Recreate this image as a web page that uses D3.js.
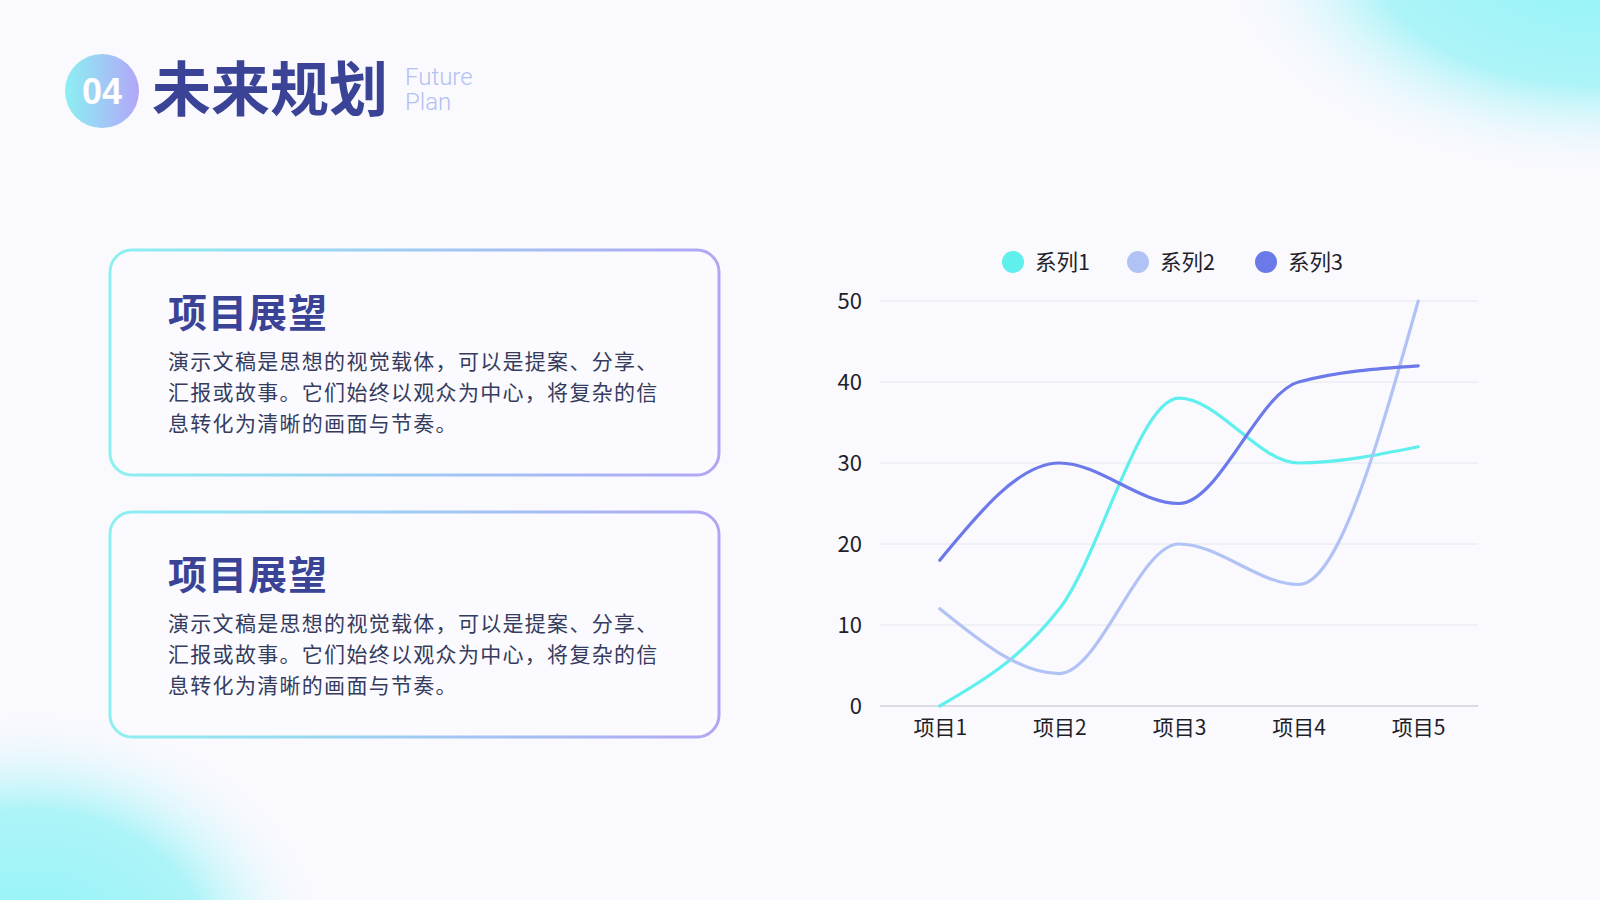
<!DOCTYPE html>
<html lang="zh">
<head>
  <meta charset="UTF-8">
  <title>未来规划</title>
  <style>
    body { margin: 0; background: #f9f9fe; }
    svg { display: block; }
    text { font-family: "Noto Sans CJK SC", "Noto Sans", sans-serif; }
  </style>
</head>
<body>
  <svg id="svg" width="1600" height="900"></svg>

  <script src="https://cdn.jsdelivr.net/npm/d3@7"></script>
  <script>
    // chart data
    const categories = ['项目1', '项目2', '项目3', '项目4', '项目5'];
    const seriesNames = ['系列1', '系列2', '系列3'];
    const series1 = [0, 12, 38, 30, 32];
    const series2 = [12, 4, 20, 15, 50];
    const series3 = [18, 30, 25, 40, 42];
    const yTicks = [0, 10, 20, 30, 40, 50];
    const seriesColors = ['#5ff0ee', '#b1c3f5', '#6c79e8'];

    const cardTitle = '项目展望';
    const cardLines = [
      '演示文稿是思想的视觉载体，可以是提案、分享、',
      '汇报或故事。它们始终以观众为中心，将复杂的信',
      '息转化为清晰的画面与节奏。'
    ];

    const svg = d3.select('#svg');
    const defs = svg.append('defs');

    // soft background blobs
    const blob = defs.append('radialGradient').attr('id', 'blob');
    blob.append('stop').attr('offset', '0%').attr('stop-color', '#8ef4f6').attr('stop-opacity', 1);
    blob.append('stop').attr('offset', '60%').attr('stop-color', '#9ff3f7').attr('stop-opacity', 0.85);
    blob.append('stop').attr('offset', '100%').attr('stop-color', '#f9f9fe').attr('stop-opacity', 0);

    svg.append('rect').attr('width', 1600).attr('height', 900).attr('fill', '#f9f9fe');
    svg.append('ellipse').attr('cx', 1600).attr('cy', -50).attr('rx', 380).attr('ry', 225).attr('fill', 'url(#blob)');
    svg.append('ellipse').attr('cx', 30).attr('cy', 960).attr('rx', 300).attr('ry', 250).attr('fill', 'url(#blob)');

    // header
    const badgeGrad = defs.append('linearGradient').attr('id', 'badge');
    badgeGrad.append('stop').attr('offset', '0%').attr('stop-color', '#8cf0f2');
    badgeGrad.append('stop').attr('offset', '100%').attr('stop-color', '#b2a6f8');

    svg.append('circle').attr('cx', 102).attr('cy', 91).attr('r', 37).attr('fill', 'url(#badge)');
    svg.append('text').attr('x', 102).attr('y', 104).attr('text-anchor', 'middle')
      .attr('fill', '#fff').attr('font-size', 36).attr('font-weight', 700)
      .style('font-family', '"Liberation Sans", Arial, sans-serif').text('04');
    svg.append('text').attr('x', 152).attr('y', 111)
      .attr('fill', '#3a4396').attr('font-size', 59).attr('font-weight', 700).text('未来规划');
    svg.append('text').attr('x', 405).attr('y', 85)
      .attr('fill', '#b3c0f2').attr('font-size', 24).style('font-family', 'Roboto, sans-serif')
      .attr('font-weight', 300).text('Future');
    svg.append('text').attr('x', 405).attr('y', 110)
      .attr('fill', '#b3c0f2').attr('font-size', 24).style('font-family', 'Roboto, sans-serif')
      .attr('font-weight', 300).text('Plan');

    // cards
    const cardGrad = defs.append('linearGradient').attr('id', 'cardStroke');
    cardGrad.append('stop').attr('offset', '0%').attr('stop-color', '#8df0f0');
    cardGrad.append('stop').attr('offset', '100%').attr('stop-color', '#b1a6f4');

    const cardTops = [250, 512];
    cardTops.forEach(top => {
      const g = svg.append('g').attr('transform', `translate(110,${top})`);
      g.append('rect').attr('width', 609).attr('height', 225).attr('rx', 22)
        .attr('fill', '#fbfbff').attr('stroke', 'url(#cardStroke)').attr('stroke-width', 3);
      g.append('text').attr('x', 58).attr('y', 77)
        .attr('fill', '#3a4396').attr('font-size', 39).attr('font-weight', 700)
        .attr('letter-spacing', 1).text(cardTitle);
      g.selectAll('.line').data(cardLines).enter().append('text')
        .attr('x', 58).attr('y', (d, i) => 119 + i * 31)
        .attr('fill', '#363c5e').attr('font-size', 21).attr('letter-spacing', 1.3).text(d => d);
    });

    // line chart
    const x = d3.scalePoint().domain(categories).range([880, 1478]).padding(0.5);
    const y = d3.scaleLinear().domain([0, 50]).range([706, 301]);

    const grid = svg.append('g');
    grid.selectAll('line').data(yTicks).enter().append('line')
      .attr('x1', 880).attr('x2', 1478)
      .attr('y1', d => y(d)).attr('y2', d => y(d))
      .attr('stroke', d => d === 0 ? '#cfd0dc' : '#e6e6ef').attr('stroke-width', d => d === 0 ? 1.5 : 1);

    const yAxis = svg.append('g').attr('transform', 'translate(862,0)')
      .call(d3.axisLeft(y).tickValues(yTicks).tickSize(0).tickPadding(0));
    yAxis.select('.domain').remove();
    yAxis.selectAll('text').attr('font-size', 22).attr('fill', '#1f1f2a')
      .style('font-family', '"Noto Sans CJK SC", sans-serif');

    const xAxis = svg.append('g').attr('transform', 'translate(0,706)')
      .call(d3.axisBottom(x).tickSize(0).tickPadding(14));
    xAxis.select('.domain').remove();
    xAxis.selectAll('text').attr('font-size', 21).attr('fill', '#1f1f2a')
      .style('font-family', '"Noto Sans CJK SC", sans-serif');

    const allSeries = [series1, series2, series3];
    const line = d3.line()
      .x((d, i) => x(categories[i]))
      .y(d => y(d))
      .curve(d3.curveMonotoneX);

    svg.append('g').selectAll('path').data(allSeries).enter().append('path')
      .attr('d', line)
      .attr('fill', 'none')
      .attr('stroke', (d, i) => seriesColors[i])
      .attr('stroke-width', 3.2)
      .attr('stroke-linecap', 'round');

    // legend
    const legendX = [1013, 1138, 1266];
    const legend = svg.append('g').selectAll('g').data(seriesNames).enter().append('g')
      .attr('transform', (d, i) => `translate(${legendX[i]},262)`);
    legend.append('circle').attr('r', 11).attr('fill', (d, i) => seriesColors[i]);
    legend.append('text').attr('x', 22).attr('y', 8)
      .attr('font-size', 21.5).attr('fill', '#1f1f2a').text(d => d);
  </script>
</body>
</html>
